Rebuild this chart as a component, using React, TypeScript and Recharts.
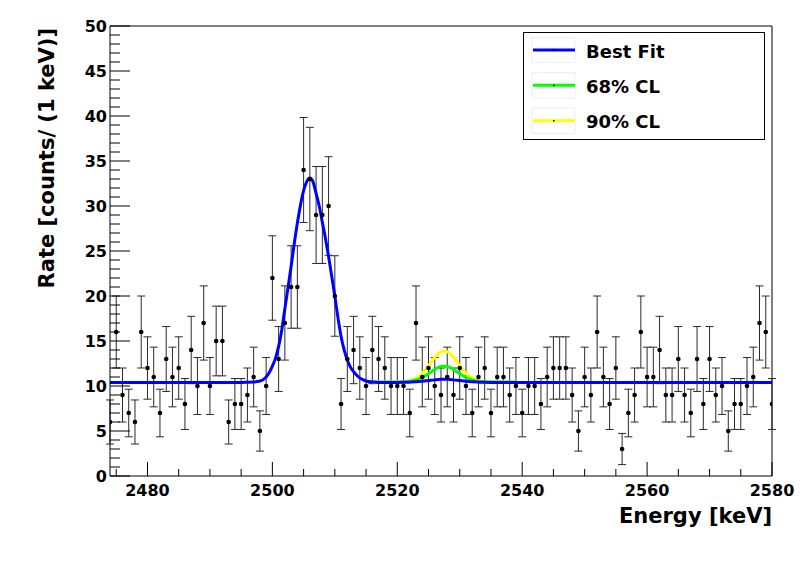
import React from 'react';
import {
  ComposedChart,
  XAxis,
  YAxis,
  Line,
  Scatter,
  ErrorBar,
  ReferenceLine,
  Legend,
  Label,
} from 'recharts';

const FONT = '"DejaVu Sans", "Liberation Sans", sans-serif';

// ---------------- data ----------------
const energyStart = 2474; // first bin (keV), one bin per keV
const counts = [
  6, 16, 9, 7, 6, 16, 12, 11, 7, 13, // 2474-2483
  11, 12, 8, 14, 10, 17, 10, 15, 15, 6, // 2484-2493
  8, 8, 9, 11, 5, 10, 22, 13, 17, 21, // 2494-2503
  21, 34, 33, 29, 29, 30, 20, 8, 13, 14, // 2504-2513
  12, 10, 14, 13, 12, 10, 10, 10, 7, 17, // 2514-2523
  11, 12, 10, 9, 11, 9, 12, 10, 7, 11, // 2524-2533
  12, 7, 11, 11, 9, 10, 7, 10, 10, 8, // 2534-2543
  11, 12, 12, 12, 9, 5, 11, 9, 16, 11, // 2544-2553
  8, 12, 3, 7, 9, 16, 11, 11, 14, 9, // 2554-2563
  9, 13, 9, 7, 13, 8, 13, 9, 10, 5, // 2564-2573
  8, 8, 10, 11, 17, 16, 8, // 2574-2580
];

const bestFitX = [
  2474, 2480, 2490, 2495, 2496, 2497, 2497.5, 2498, 2498.5, 2499, 2499.5,
  2500, 2500.5, 2501, 2501.5, 2502, 2502.5, 2503, 2503.5, 2504, 2504.5,
  2505, 2505.5, 2506, 2506.5, 2507, 2507.5, 2508, 2508.5, 2509, 2509.5,
  2510, 2510.5, 2511, 2511.5, 2512, 2512.5, 2513, 2513.5, 2514, 2514.5,
  2515, 2516, 2517, 2520, 2521, 2522, 2523, 2524, 2525, 2526,
  2527, 2527.5, 2528, 2529, 2530, 2531, 2532, 2533, 2534, 2535,
  2540, 2560, 2580,
];
const bestFitY = [
  10.4, 10.4, 10.4, 10.4, 10.42, 10.45, 10.5, 10.55, 10.7, 11.0, 11.5,
  12.2, 13.1, 14.4, 16.2, 18.6, 20.9, 23.3, 25.8, 28.1, 30.1,
  31.7, 32.7, 33.1, 32.7, 31.4, 30.0, 28.2, 26.4, 24.4, 22.2,
  20.0, 17.6, 15.5, 14.0, 12.9, 12.1, 11.6, 11.2, 10.9, 10.7,
  10.55, 10.45, 10.4, 10.4, 10.41, 10.43, 10.46, 10.52, 10.6, 10.68,
  10.74, 10.75, 10.74, 10.68, 10.6, 10.52, 10.46, 10.43, 10.41, 10.4,
  10.4, 10.4, 10.4,
];

const clX = [
  2516, 2518, 2520, 2521, 2522, 2523, 2524, 2524.5, 2525, 2525.5, 2526, 2526.5,
  2527, 2527.5, 2528, 2528.5, 2529, 2529.5, 2530, 2530.5, 2531, 2532, 2533,
  2534, 2535, 2537, 2539,
];
const cl90Y = [
  10.45, 10.45, 10.46, 10.49, 10.6, 10.87, 11.42, 11.81, 12.26, 12.73, 13.19, 13.56,
  13.81, 13.9, 13.81, 13.56, 13.19, 12.73, 12.26, 11.81, 11.42, 10.87, 10.6,
  10.49, 10.46, 10.45, 10.45,
];
const cl68Y = [
  10.45, 10.45, 10.45, 10.47, 10.53, 10.67, 10.94, 11.14, 11.37, 11.61, 11.84, 12.04,
  12.16, 12.2, 12.16, 12.04, 11.84, 11.61, 11.37, 11.14, 10.94, 10.67, 10.53,
  10.47, 10.45, 10.45, 10.45,
];

const xTicks = [
  2475, 2480, 2485, 2490, 2495, 2500, 2505, 2510, 2515, 2520, 2525, 2530,
  2535, 2540, 2545, 2550, 2555, 2560, 2565, 2570, 2575, 2580,
];
const xMajorTicks = [2480, 2500, 2520, 2540, 2560, 2580];
const yTicks = [
  0, 1, 2, 3, 4, 5, 6, 7, 8, 9, 10, 11, 12, 13, 14, 15, 16, 17, 18, 19, 20,
  21, 22, 23, 24, 25, 26, 27, 28, 29, 30, 31, 32, 33, 34, 35, 36, 37, 38, 39,
  40, 41, 42, 43, 44, 45, 46, 47, 48, 49, 50,
];
const yMajorTicks = [0, 5, 10, 15, 20, 25, 30, 35, 40, 45, 50];

const legendLabels = ['Best Fit', '68% CL', '90% CL'];
const legendColors = ['#0000ff', '#00ff00', '#ffff00'];

const xTitle = 'Energy [keV]';
const yTitle = 'Rate [counts/ (1 keV)]';

// -------------- derived tables --------------
const points = counts.map((c, i) => ({ x: energyStart + i, y: c, err: Math.sqrt(c) }));
const bestFit = bestFitX.map((x, i) => ({ x, y: bestFitY[i] }));
const cl68 = clX.map((x, i) => ({ x, y: cl68Y[i] }));
const cl90 = clX.map((x, i) => ({ x, y: cl90Y[i] }));

// -------------- custom pieces --------------
const XTick = (props: any) => {
  const { x, y, payload } = props;
  const v = payload.value;
  const major = xMajorTicks.includes(v);
  return (
    <g>
      <line x1={x} x2={x} y1={y} y2={y - (major ? 14 : 7)} stroke="#000" strokeWidth={1} />
      {major && (
        <text x={x} y={y + 20} textAnchor="middle" fontFamily={FONT} fontWeight="bold" fontSize={16} fill="#000">
          {v}
        </text>
      )}
    </g>
  );
};

const YTick = (props: any) => {
  const { x, y, payload } = props;
  const v = payload.value;
  const major = yMajorTicks.includes(v);
  return (
    <g>
      <line x1={x} x2={x + (major ? 20 : 10)} y1={y} y2={y} stroke="#000" strokeWidth={1} />
      {major && (
        <text x={x - 3} y={y + 6} textAnchor="end" fontFamily={FONT} fontWeight="bold" fontSize={16} fill="#000">
          {v}
        </text>
      )}
    </g>
  );
};

const renderLegend = () => (
  <svg width={242} height={108} style={{ display: 'block' }}>
    <rect x={0.5} y={0.5} width={241} height={107} fill="#fff" stroke="#000" strokeWidth={1} />
    {legendLabels.map((l, i) => {
      const cy = 18 + i * 35.35;
      return (
        <g key={l}>
          <rect x={9} y={cy - 12.7} width={43} height={25.4} fill="none" stroke="#eeeeee" strokeWidth={1} />
          <line x1={10} x2={52} y1={cy} y2={cy} stroke={legendColors[i]} strokeWidth={3} />
          <rect x={30} y={cy - 0.75} width={1.5} height={1.5} fill="#000" />
          <text x={63} y={cy + 7.5} fontFamily={FONT} fontWeight="bold" fontSize={18} fill="#000">
            {l}
          </text>
        </g>
      );
    })}
  </svg>
);

const dotShape = (props: any) => <circle cx={props.cx} cy={props.cy} r={2.3} fill="#000" />;

export default function App() {
  return (
    <div style={{ position: 'absolute', left: 0, top: 0, width: 802, height: 562, background: '#fff' }}>
      <ComposedChart
        width={802}
        height={562}
        margin={{ top: 26, right: 30, bottom: 0, left: 0 }}
        style={{ fontFamily: FONT }}
      >
        <XAxis
          type="number"
          dataKey="x"
          domain={[2474, 2580]}
          allowDataOverflow
          ticks={xTicks}
          interval={0}
          height={86}
          tickSize={0}
          tickMargin={0}
          tickLine={false}
          axisLine={{ stroke: '#000', strokeWidth: 1 }}
          tick={<XTick />}
        >
          <Label
            content={(p: any) => {
              const vb = p.viewBox || { x: 110, y: 476, width: 662, height: 86 };
              return (
                <text
                  x={vb.x + vb.width}
                  y={vb.y + 47}
                  textAnchor="end"
                  fontFamily={FONT}
                  fontWeight="bold"
                  fontSize={21}
                  fill="#000"
                >
                  {xTitle}
                </text>
              );
            }}
          />
        </XAxis>
        <YAxis
          type="number"
          dataKey="y"
          domain={[0, 50]}
          allowDataOverflow
          ticks={yTicks}
          interval={0}
          width={110}
          tickSize={0}
          tickMargin={0}
          tickLine={false}
          axisLine={{ stroke: '#000', strokeWidth: 1 }}
          tick={<YTick />}
        >
          <Label
            content={(p: any) => {
              const vb = p.viewBox || { x: 0, y: 26, width: 110, height: 450 };
              const tx = vb.x + 54;
              const ty = vb.y + 2;
              return (
                <text
                  x={tx}
                  y={ty}
                  transform={`rotate(-90, ${tx}, ${ty})`}
                  textAnchor="end"
                  fontFamily={FONT}
                  fontWeight="bold"
                  fontSize={21}
                  fill="#000"
                >
                  {yTitle}
                </text>
              );
            }}
          />
        </YAxis>
        <ReferenceLine y={50} stroke="#000" strokeWidth={1} />
        <ReferenceLine x={2580} stroke="#000" strokeWidth={1} />
        <Scatter
          name="data"
          data={points}
          dataKey="y"
          shape={dotShape}
          isAnimationActive={false}
          legendType="none"
        >
          <ErrorBar dataKey="err" direction="y" width={4} stroke="#2a2a2a" strokeWidth={1} isAnimationActive={false} />
        </Scatter>
        <Line
          name={legendLabels[2]}
          data={cl90}
          dataKey="y"
          type="monotone"
          stroke={legendColors[2]}
          strokeWidth={3}
          dot={false}
          isAnimationActive={false}
        />
        <Line
          name={legendLabels[1]}
          data={cl68}
          dataKey="y"
          type="monotone"
          stroke={legendColors[1]}
          strokeWidth={3}
          dot={false}
          isAnimationActive={false}
        />
        <Line
          name={legendLabels[0]}
          data={bestFit}
          dataKey="y"
          type="monotone"
          stroke={legendColors[0]}
          strokeWidth={3}
          dot={false}
          isAnimationActive={false}
        />
        <Legend
          layout="vertical"
          align="center"
          verticalAlign="middle"
          wrapperStyle={{ position: 'absolute', left: 523, top: 32, width: 242, height: 108 }}
          content={renderLegend}
        />
      </ComposedChart>
    </div>
  );
}
